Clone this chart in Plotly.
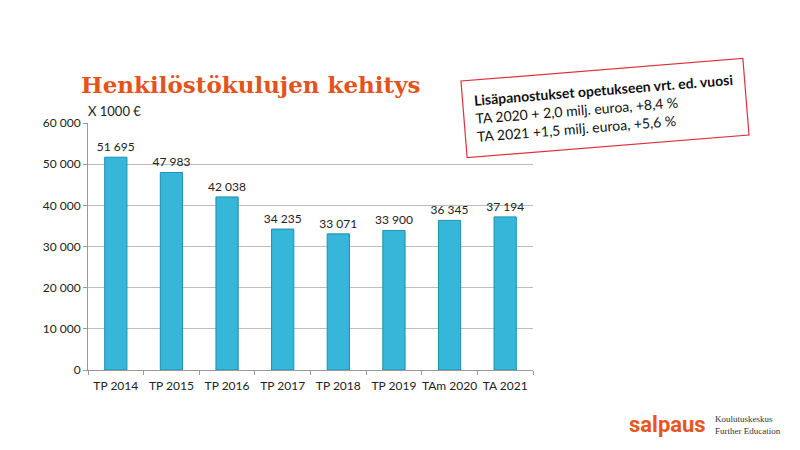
import plotly.graph_objects as go

categories = ["TP 2014", "TP 2015", "TP 2016", "TP 2017", "TP 2018", "TP 2019", "TAm 2020", "TA 2021"]
values = [51695, 47983, 42038, 34235, 33071, 33900, 36345, 37194]
y_ticks = [0, 10000, 20000, 30000, 40000, 50000, 60000]

FONT = "Lato"

fig = go.Figure()
fig.add_trace(go.Bar(
    x=categories, y=values,
    marker=dict(color="#36B6D9", line=dict(color="#1E8FB0", width=1)),
    width=0.4,
    texttemplate="%{y:,d}", textposition="outside", constraintext="none",
    textfont=dict(size=12, color="#222222", family=FONT),
    cliponaxis=False,
))

fig.update_layout(
    width=800, height=450,
    paper_bgcolor="white", plot_bgcolor="white",
    separators=", ",
    margin=dict(l=80, r=275, t=115, b=88, autoexpand=False),
    showlegend=False,
    font=dict(family=FONT, size=12, color="#222222"),
    bargap=0.6,
)
fig.update_xaxes(
    showline=True, linecolor="#9A9A9A", linewidth=1,
    ticks="outside", tickson="boundaries", ticklen=4, tickcolor="#9A9A9A",
    tickfont=dict(size=12, family=FONT), tickangle=0, automargin=False,
    ticklabelstandoff=5,
)
fig.update_yaxes(
    range=[0, 60000], tickvals=y_ticks, tickformat=",d",
    showgrid=True, gridcolor="#BDBDBD", gridwidth=1,
    showline=True, linecolor="#9A9A9A", linewidth=1,
    ticks="outside", ticklen=4, tickcolor="#9A9A9A",
    tickfont=dict(size=12, family=FONT), zeroline=False, automargin=False,
)

# Title
fig.add_annotation(
    text="<b>Henkilöstökulujen kehitys</b>", xref="paper", yref="paper",
    x=-0.02, y=1.095, xanchor="left", yanchor="bottom", showarrow=False,
    font=dict(family="DejaVu Serif", size=23, color="#E4531B"),
)
fig.add_annotation(
    text="X 1000 €", xref="paper", yref="paper",
    x=-0.005, y=1.008, xanchor="left", yanchor="bottom", showarrow=False,
    font=dict(family=FONT, size=13, color="#222222"),
)

# Rotated info box
fig.add_annotation(
    text="<b>Lisäpanostukset opetukseen vrt. ed. vuosi</b><br>TA 2020 + 2,0 milj. euroa, +8,4 %<br>TA 2021 +1,5 milj. euroa, +5,6 %",
    xref="paper", yref="paper", x=1.162, y=1.06, xanchor="center", yanchor="middle",
    showarrow=False, align="left", textangle=-4.6,
    bordercolor="#E0313C", borderwidth=1.2, borderpad=11, bgcolor="white",
    font=dict(family=FONT, size=14, color="#111111"),
)

# Logo
fig.add_annotation(
    text="<b>salpaus</b>", xref="paper", yref="paper",
    x=1.211, y=-0.222, xanchor="left", yanchor="middle", showarrow=False,
    font=dict(family="Roboto", size=22, color="#E8561E"),
)
fig.add_annotation(
    text="Koulutuskeskus<br>Further Education", xref="paper", yref="paper",
    x=1.404, y=-0.222, xanchor="left", yanchor="middle", showarrow=False, align="left",
    font=dict(family="Liberation Serif", size=9, color="#333333"),
)

fig.write_html("out.html")
